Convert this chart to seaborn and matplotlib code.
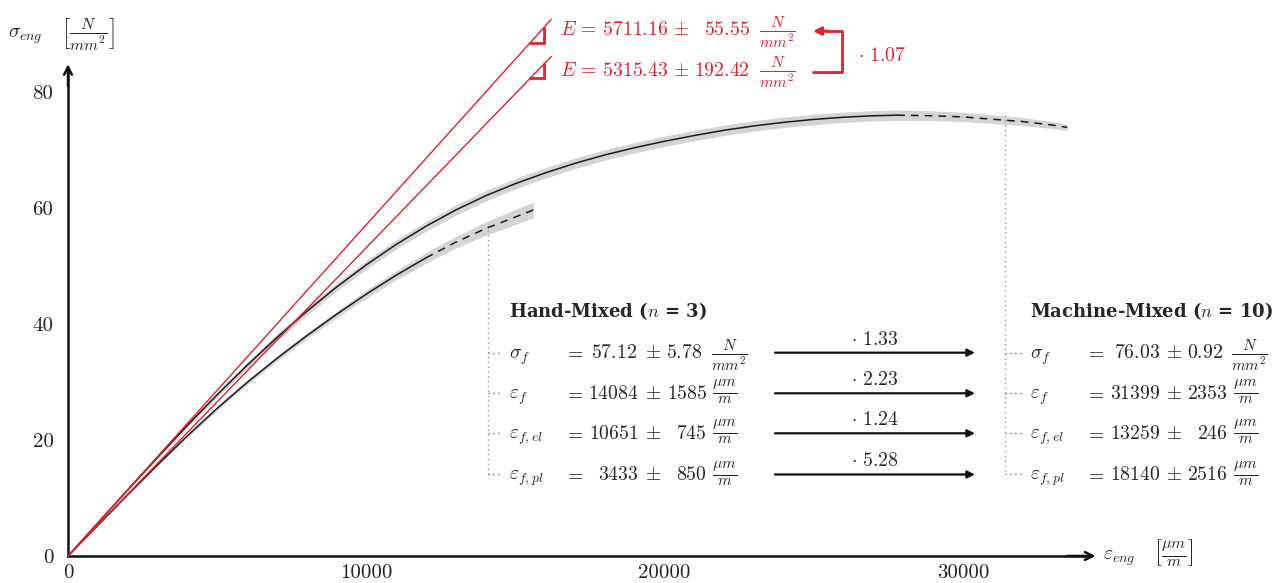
import matplotlib
matplotlib.use('Agg')

import pandas as pd
import matplotlib.pyplot as plt
import seaborn as sns

# ====== 1. Data ======
# machine-mixed mean curve, strain in um/m, stress in N/mm^2
mm_strain = [0, 1000, 2000, 3000, 4000, 5000, 6000, 7000, 8000, 9000, 10000,
             11000, 12000, 13000, 14000, 15000, 16000, 17000, 18000, 19000, 20000,
             21000, 22000, 23000, 24000, 25000, 26000, 27000, 27800,
             29000, 30000, 31000, 32000, 33000, 33500]
mm_stress = [0, 5.7, 11.38, 17.0, 22.5, 27.8, 32.85, 37.65, 42.15, 46.35, 50.2,
             53.7, 56.85, 59.65, 62.1, 64.2, 66.05, 67.7, 69.15, 70.4, 71.5,
             72.5, 73.4, 74.15, 74.77, 75.27, 75.65, 75.9, 76.0,
             75.9, 75.7, 75.3, 74.9, 74.3, 73.9]
mm_band = [0, 0.1, 0.2, 0.3, 0.35, 0.45, 0.5, 0.6, 0.65, 0.7, 0.75,
           0.8, 0.85, 0.9, 0.9, 0.9, 0.9, 0.9, 0.9, 0.9, 0.9,
           0.9, 0.9, 0.9, 0.9, 0.9, 0.9, 0.9, 0.9,
           0.85, 0.8, 0.75, 0.7, 0.6, 0.55]
mm_solid_until = 27800

# hand-mixed mean curve
hm_strain = [0, 1000, 2000, 3000, 4000, 5000, 6000, 7000, 8000, 9000, 10000,
             11000, 12000, 13000, 14000, 15000, 15600]
hm_stress = [0, 5.3, 10.55, 15.7, 20.7, 25.45, 29.9, 34.05, 37.95, 41.65, 45.15,
             48.4, 51.4, 54.1, 56.45, 58.45, 59.65]
hm_band = [0, 0.1, 0.15, 0.2, 0.3, 0.35, 0.4, 0.45, 0.5, 0.6, 0.7,
           0.8, 0.9, 1.0, 1.15, 1.3, 1.35]
hm_solid_until = 12000

# young's moduli (machine, hand)
E_values = ["5711.16", "5315.43"]
E_errors = ["55.55", "192.42"]
E_ratio = "1.07"
tangent_strain = [0, 16200]

# failure values
prop_labels = [r"\sigma_f", r"\varepsilon_f", r"\varepsilon_{f,el}", r"\varepsilon_{f,pl}"]
prop_units = [r"\frac{N}{mm^2}", r"\frac{\mu m}{m}", r"\frac{\mu m}{m}", r"\frac{\mu m}{m}"]
hand_mean = ["57.12", "14084", "10651", "3433"]
hand_err = ["5.78", "1585", "745", "850"]
machine_mean = ["76.03", "31399", "13259", "18140"]
machine_err = ["0.92", "2353", "246", "2516"]
ratios = ["1.33", "2.23", "1.24", "5.28"]
hand_fail = (14084, 57.12)
machine_fail = (31399, 76.03)

x_ticks = [0, 10000, 20000, 30000]
y_ticks = [0, 20, 40, 60, 80]

# ====== 2. Style ======
sns.set_style("white")
plt.rcParams.update({
    "font.family": "serif",
    "font.serif": ["cmr10"],
    "mathtext.fontset": "cm",
    "axes.formatter.use_mathtext": True,
    "axes.unicode_minus": False,
})
RED = "#e3202c"
FS = 14.2
FS_UNIT = 16.0

fig = plt.figure(figsize=(12.79, 5.83), dpi=100)
ax = fig.add_axes([0, 0, 1, 1])
ax.set_xlim(-2280, 40600)
ax.set_ylim(-4.66, 95.86)

# ====== 3. Curves ======
def draw_curve(strain, stress, band, solid_until):
    df = pd.DataFrame({"strain": strain, "stress": stress, "band": band})
    ax.fill_between(df["strain"], df["stress"] - df["band"], df["stress"] + df["band"],
                    color="#d4d4d4", lw=0, zorder=1)
    solid = df[df["strain"] <= solid_until]
    dashed = df[df["strain"] >= solid_until]
    sns.lineplot(data=solid, x="strain", y="stress", ax=ax, color="#1a1a1a", lw=1.1, zorder=3)
    sns.lineplot(data=dashed, x="strain", y="stress", ax=ax, color="#1a1a1a", lw=1.1,
                 linestyle=(0, (5, 4)), zorder=3)

draw_curve(mm_strain, mm_stress, mm_band, mm_solid_until)
draw_curve(hm_strain, hm_stress, hm_band, hm_solid_until)

# tangent lines + slope triangles
tri_x1, tri_x2 = 15500, 15950
for E in E_values:
    e = float(E) * 1e-6
    sns.lineplot(x=tangent_strain, y=[e * s for s in tangent_strain], ax=ax,
                 color=RED, lw=1.0, zorder=4)
    ax.plot([tri_x1, tri_x2, tri_x2], [e * tri_x1, e * tri_x1, e * tri_x2],
            color=RED, lw=2, solid_joinstyle="miter", zorder=4)

# E texts
E_base = [89.8, 82.8]
for E, err, yb in zip(E_values, E_errors, E_base):
    ax.text(16494, yb, rf"$E\,=\,{E}\,\pm$", color=RED, fontsize=FS, va="baseline", ha="left")
    ax.text(22863, yb, rf"${err}$", color=RED, fontsize=FS, va="baseline", ha="right")
    ax.text(23180, yb, r"$\frac{N}{mm^2}$", color=RED, fontsize=FS_UNIT, va="baseline", ha="left")

# ratio bracket
ax.plot([24975, 25947, 25947, 25400], [83.4, 83.4, 90.5, 90.5], color=RED, lw=2, zorder=4)
ax.annotate("", xy=(24975, 90.5), xytext=(25500, 90.5),
            arrowprops=dict(arrowstyle="-|>", color=RED, lw=2, shrinkA=0, shrinkB=0,
                            mutation_scale=12))
ax.text(26483, 85.4, rf"$\cdot\ {E_ratio}$", color=RED, fontsize=FS, va="baseline", ha="left")

# ====== 4. Axes ======
for s in ["top", "right"]:
    ax.spines[s].set_visible(False)
ax.spines["left"].set_position(("data", 0))
ax.spines["bottom"].set_position(("data", 0))
ax.spines["left"].set_bounds(0, 84)
ax.spines["bottom"].set_bounds(0, 34100)
for s in ["left", "bottom"]:
    ax.spines[s].set_linewidth(1.8)
    ax.spines[s].set_color("#111111")
ax.annotate("", xy=(34450, 0), xytext=(33500, 0),
            arrowprops=dict(arrowstyle="->", color="#111111", lw=1.8, shrinkA=0, shrinkB=0,
                            mutation_scale=14))
ax.annotate("", xy=(0, 84.8), xytext=(0, 81),
            arrowprops=dict(arrowstyle="->", color="#111111", lw=1.8, shrinkA=0, shrinkB=0,
                            mutation_scale=14))

ax.set_xticks(x_ticks)
ax.set_xticklabels([str(t) for t in x_ticks])
ax.set_yticks(y_ticks)
ax.set_yticklabels([str(t) for t in y_ticks])
ax.tick_params(axis="both", direction="inout", length=9, width=1, color="#c0c0c0",
               labelsize=15, labelcolor="#222222")
ax.tick_params(axis="x", pad=1.5)
ax.tick_params(axis="y", pad=6)
ax.set_xlabel("")
ax.set_ylabel("")
ax.grid(False)

# axis labels: symbol + bracketed unit
ax.text(-2011, 89.3, r"$\sigma_{eng}$", fontsize=FS, va="baseline", ha="left")
ax.text(-230, 89.3, r"$\left[\frac{N}{mm^2}\right]$", fontsize=16.5, va="baseline", ha="left")
ax.text(34700, -0.7, r"$\varepsilon_{eng}$", fontsize=FS, va="baseline", ha="left")
ax.text(36400, -0.7, r"$\left[\frac{\mu m}{m}\right]$", fontsize=16.5, va="baseline", ha="left")

# ====== 5. Failure tables ======
row_base = [34.1, 27.1, 20.2, 13.1]

def draw_table(x0, title, means, errs, fail, first_shift):
    ax.text(x0, 41.2, title, fontsize=13, family="DejaVu Serif", weight="bold",
            va="baseline", ha="left")
    ax.plot([fail[0], fail[0]], [fail[1], row_base[-1] + 0.95], color="#9a9a9a",
            lw=1, linestyle=(0, (1, 2.5)), zorder=2)
    for i, (lab, mean, err, unit) in enumerate(zip(prop_labels, means, errs, prop_units)):
        yb = row_base[i]
        dm, de, du = first_shift if i == 0 else (0, 0, 0)
        ax.plot([fail[0], x0 - 300], [yb + 0.95, yb + 0.95], color="#777777",
                lw=1, linestyle=(0, (1, 2.5)), zorder=2)
        ax.text(x0, yb, rf"${lab}$", fontsize=FS, va="baseline", ha="left")
        ax.text(x0 + 1860, yb, r"$=$", fontsize=FS, va="baseline", ha="left")
        ax.text(x0 + 4360 + dm, yb, rf"${mean}$", fontsize=FS, va="baseline", ha="right")
        ax.text(x0 + 4830, yb, r"$\pm$", fontsize=FS, va="baseline", ha="center")
        ax.text(x0 + 6640 + de, yb, rf"${err}$", fontsize=FS, va="baseline", ha="right")
        ax.text(x0 + 6800 + du, yb, rf"${unit}$", fontsize=FS_UNIT, va="baseline", ha="left")

draw_table(14784, r"Hand-Mixed ($n$ = 3)", hand_mean, hand_err, hand_fail, (-67, -150, -40))
draw_table(32249, r"Machine-Mixed ($n$ = 10)", machine_mean, machine_err, machine_fail,
           (0, -180, -60))

# ratio arrows between the tables
for r, yb in zip(ratios, row_base):
    ay = yb + 0.95
    ax.annotate("", xy=(30406, ay), xytext=(23701, ay),
                arrowprops=dict(arrowstyle="-|>", color="#111111", lw=1.6, shrinkA=0, shrinkB=0,
                                mutation_scale=11))
    ax.text(27053, yb + 2.35, rf"$\cdot\ {r}$", fontsize=FS, va="baseline", ha="center")

fig.savefig("out.png", dpi=100)
plt.close(fig)
